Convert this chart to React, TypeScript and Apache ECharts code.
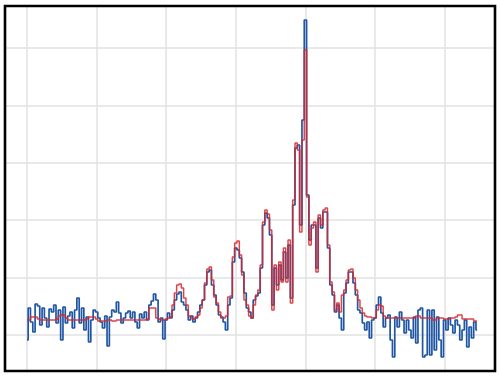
import React, { useEffect, useRef } from "react";
import * as echarts from "echarts";

// Measured signal (blue) and fitted/smoothed curve (red), sampled uniformly.
const measured: number[] = [
  -5, 27, 13, 3, 31, 29, 10, 27, 17, 8,
  26, 23, 30, 12, 25, -5, 28, 12, 19, 23,
  7, 25, 37, 12, 27, 5, 18, -7, 15, 25,
  23, 17, 13, 7, 19, -11, 18, 25, 23, 33,
  22, 12, 17, 22, 24, 17, 23, 13, 7, 21,
  17, 23, 15, 30, 34, 41, 35, 13, 17, -4,
  15, 22, 17, 25, 35, 41, 43, 33, 30, 25,
  15, 19, 13, 17, 23, 30, 35, 50, 63, 65,
  50, 40, 30, 20, 18, 13, 5, 30, 37, 73,
  87, 85, 77, 63, 42, 27, 23, 17, 35, 39,
  42, 67, 110, 122, 117, 100, 30, 67, 50, 70,
  55, 83, 57, 90, 37, 130, 187, 190, 110, 215,
  315, 140, 95, 110, 110, 67, 117, 107, 123, 123,
  87, 50, 40, 23, 30, 17, 5, 42, 52, 63,
  63, 52, 40, 25, 22, 12, 5, 13, -3, 15,
  17, 30, 38, 22, 8, 17, 20, -5, -22, 18,
  8, 23, 15, 2, 15, 5, -3, 18, -8, 25,
  27, -22, -20, 25, -20, 25, -15, 18, -5, -22,
  15, 5, 17, 10, 2, 15, 10, -5, 5, 15,
  -12, 8, -3, 13, 5,
];

const fitted: number[] = [
  15, 15, 18, 18, 18, 16, 15, 15, 15, 15,
  15, 15, 15, 16, 19, 20, 20, 17, 15, 15,
  15, 15, 15, 15, 15, 15, 16, 18, 18, 18,
  16, 14, 14, 14, 14, 15, 15, 14, 14, 15,
  15, 15, 15, 15, 15, 15, 15, 15, 15, 15,
  15, 15, 16, 27, 27, 27, 17, 16, 15, 15,
  16, 17, 18, 30, 42, 50, 51, 47, 37, 30,
  19, 17, 16, 18, 20, 27, 35, 52, 66, 68,
  55, 38, 32, 23, 17, 17, 19, 38, 39, 78,
  92, 94, 80, 60, 35, 30, 19, 17, 30, 40,
  45, 70, 113, 125, 121, 105, 25, 70, 45, 73,
  53, 87, 53, 95, 32, 135, 192, 185, 103, 195,
  285, 138, 90, 107, 113, 63, 120, 110, 125, 127,
  90, 53, 43, 25, 32, 23, 40, 45, 55, 65,
  66, 57, 45, 35, 27, 22, 19, 18, 18, 17,
  17, 25, 30, 29, 19, 17, 17, 17, 17, 17,
  17, 17, 17, 17, 17, 17, 17, 17, 19, 19,
  17, 17, 17, 17, 17, 15, 15, 17, 17, 17,
  16, 16, 16, 17, 17, 18, 20, 20, 16, 16,
  16, 16, 16, 14, 14,
];

// Axis extents (sample index on x, signal level on y) and grid spacing.
const xExtent = [-9.48, 201.7];
const xStep = 30;
const yExtent = [-36, 329];
const yStep = 57.4;

export default function App() {
  const ref = useRef<HTMLDivElement>(null);

  useEffect(() => {
    if (!ref.current) return;
    const chart = echarts.init(ref.current, null, { renderer: "svg" });
    const toPairs = (arr: number[]) => arr.map((v, i) => [i, v]);
    chart.setOption({
      animation: false,
      backgroundColor: "#ffffff",
      grid: {
        left: 5,
        right: 5,
        top: 6,
        bottom: 7,
        show: false,
      },
      graphic: [
        {
          type: "rect",
          z: 100,
          silent: true,
          shape: { x: 5, y: 6, width: 490, height: 365 },
          style: { fill: "none", stroke: "#000000", lineWidth: 2.6 },
        },
      ],
      xAxis: {
        type: "value",
        min: xExtent[0],
        max: xExtent[1],
        minInterval: xStep,
        maxInterval: xStep,
        axisLine: { show: false },
        axisTick: { show: false },
        axisLabel: { show: false },
        splitLine: { show: true, lineStyle: { color: "#e2e2e2", width: 1.5 } },
      },
      yAxis: {
        type: "value",
        min: yExtent[0],
        max: yExtent[1],
        minInterval: yStep,
        maxInterval: yStep,
        axisLine: { show: false },
        axisTick: { show: false },
        axisLabel: { show: false },
        splitLine: { show: true, lineStyle: { color: "#e2e2e2", width: 1.5 } },
      },
      series: [
        {
          type: "line",
          name: "measured",
          data: toPairs(measured),
          step: "middle",
          showSymbol: false,
          lineStyle: { color: "#1f56a3", width: 1.7 },
          itemStyle: { color: "#1f56a3" },
        },
        {
          type: "line",
          name: "fitted",
          data: toPairs(fitted),
          step: "middle",
          showSymbol: false,
          lineStyle: { color: "#d8262a", width: 1.5, opacity: 0.85 },
          itemStyle: { color: "#d8262a" },
        },
      ],
    });
    return () => chart.dispose();
  }, []);

  return (
    <div
      ref={ref}
      style={{ position: "fixed", left: 0, top: 0, width: 500, height: 378 }}
    />
  );
}
